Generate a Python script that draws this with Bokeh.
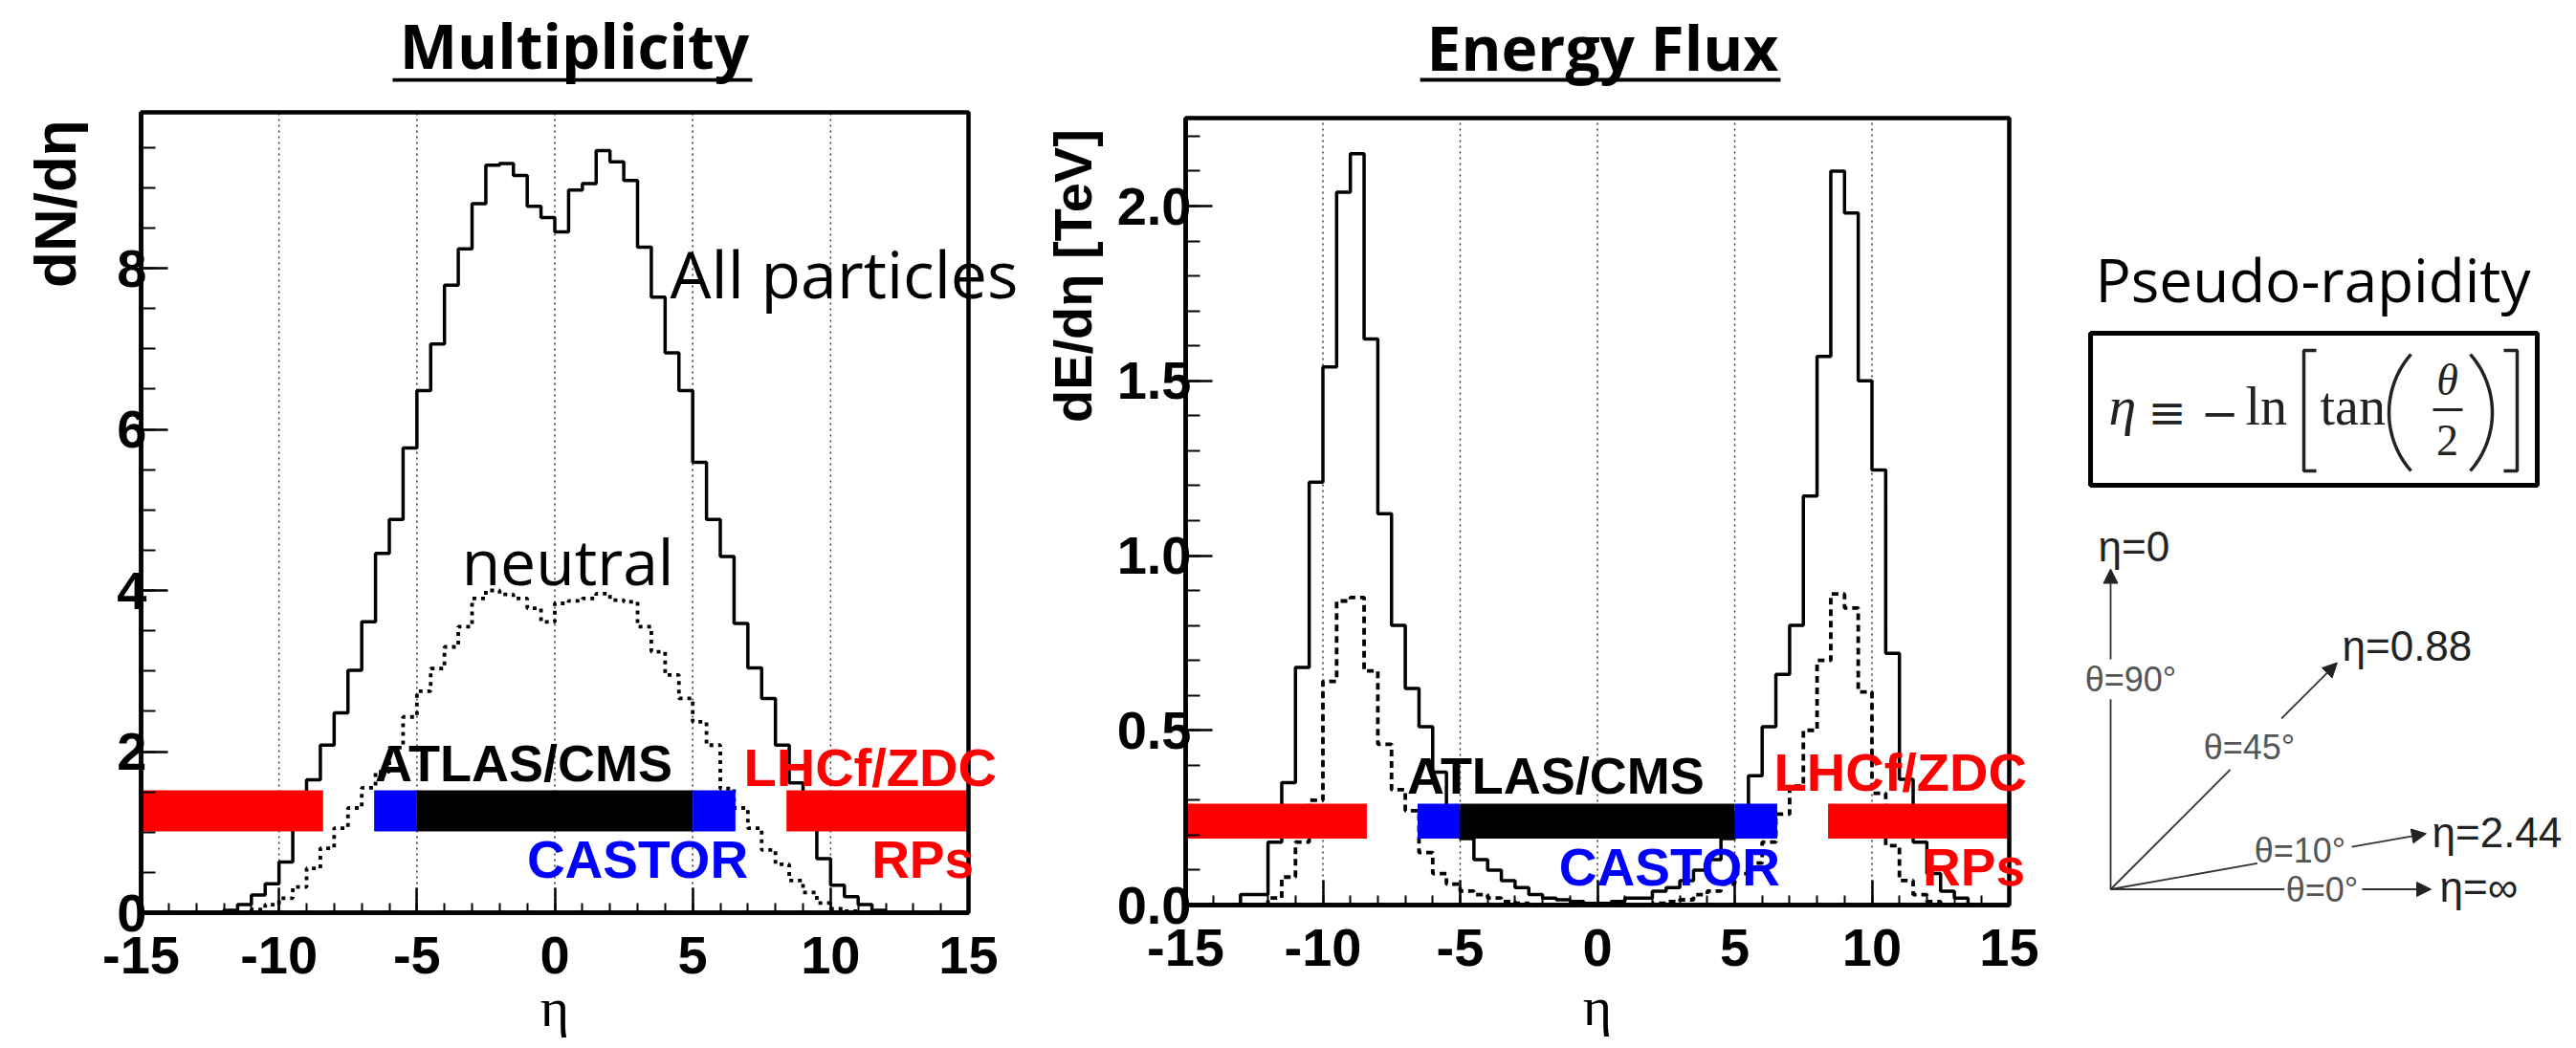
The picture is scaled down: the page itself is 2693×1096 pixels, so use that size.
import math
import numpy as np
from bokeh.plotting import figure
from bokeh.layouts import row
from bokeh.models import (Range1d, SingleIntervalTicker, PrintfTickFormatter,
                          Label, BoxAnnotation, Arrow, NormalHead)
from bokeh.core.properties import value
from bokeh.embed import file_html
from bokeh.resources import INLINE

# ---------------- data ----------------
ETA_MIN, ETA_MAX, BIN_W = -15.0, 15.0, 0.5
edges = list(np.arange(ETA_MIN, ETA_MAX + BIN_W / 2, BIN_W))  # 61 bin edges

# Multiplicity dN/deta, all particles (60 bins from -15 to 15)
mult_all = [0, 0, 0, 0, 0, 0, 0.03, 0.10, 0.22, 0.36,
            0.63, 1.07, 1.65, 2.08, 2.48, 3.01, 3.61, 4.46, 4.88, 5.77,
            6.48, 7.06, 7.79, 8.24, 8.80, 9.28, 9.30, 9.15, 8.77, 8.63,
            8.45, 8.97, 9.05, 9.46, 9.32, 9.09, 8.26, 7.64, 6.95, 6.48,
            5.59, 4.88, 4.42, 3.59, 3.04, 2.66, 2.08, 1.61, 1.09, 0.67,
            0.34, 0.20, 0.10, 0.03, 0, 0, 0, 0, 0, 0]
# Multiplicity, neutral particles
mult_neutral = [0, 0, 0, 0, 0, 0, 0, 0, 0.04, 0.10,
                0.18, 0.32, 0.55, 0.80, 1.05, 1.30, 1.55, 1.75, 2.05, 2.43,
                2.75, 3.03, 3.30, 3.55, 3.90, 4.00, 3.95, 3.90, 3.78, 3.61,
                3.84, 3.87, 3.90, 3.96, 3.88, 3.86, 3.55, 3.24, 2.95, 2.66,
                2.37, 2.08, 1.54, 1.30, 1.05, 0.78, 0.60, 0.40, 0.25, 0.12,
                0.05, 0.02, 0, 0, 0, 0, 0, 0, 0, 0]
# Energy flux dE/deta [TeV], all particles
eflux_all = [0, 0, 0, 0, 0.03, 0.03, 0.18, 0.35, 0.68, 1.21,
             1.54, 2.04, 2.15, 1.62, 1.12, 0.80, 0.62, 0.51, 0.38, 0.27,
             0.19, 0.13, 0.10, 0.07, 0.05, 0.03, 0.02, 0.015, 0.01, 0.005,
             0.005, 0.01, 0.02, 0.02, 0.04, 0.05, 0.07, 0.10, 0.13, 0.19,
             0.26, 0.37, 0.51, 0.66, 0.80, 1.17, 1.57, 2.10, 1.98, 1.50,
             1.245, 0.72, 0.36, 0.18, 0.09, 0.04, 0.02, 0, 0, 0]
# Energy flux, neutral particles
eflux_neutral = [0, 0, 0, 0, 0, 0, 0.02, 0.08, 0.18, 0.30,
                 0.64, 0.87, 0.88, 0.67, 0.46, 0.33, 0.27, 0.15, 0.09, 0.06,
                 0.04, 0.03, 0.02, 0.01, 0.005, 0, 0, 0, 0, 0,
                 0, 0, 0, 0, 0.005, 0.01, 0.015, 0.03, 0.04, 0.06,
                 0.09, 0.12, 0.18, 0.26, 0.34, 0.50, 0.70, 0.89, 0.85, 0.61,
                 0.32, 0.17, 0.07, 0.03, 0.01, 0, 0, 0, 0, 0]

# detector eta coverage
det_lo = [-15.0, -6.55, -5.0, 5.0, 8.4]
det_hi = [-8.4, -5.0, 5.0, 6.55, 15.0]
det_color = ["#ff0000", "#0000ff", "#000000", "#0000ff", "#ff0000"]

# pseudo-rapidity diagram
theta_deg = [90, 45, 10, 0]
theta_labels = ["θ=90°", "θ=45°", "θ=10°", "θ=0°"]
eta_labels = ["η=0", "η=0.88", "η=2.44", "η=∞"]

grid_x = [-10, -5, 0, 5, 10]


def make_panel(width, frame_l, frame_r, zero_px, px_per_unit, ymax, yint, yminor, yfmt):
    """Figure whose whole canvas is the plotting frame; the ROOT-style box
    [-15,15]x[0,ymax] sits inside at the given pixel geometry."""
    xppu = (frame_r - frame_l) / (ETA_MAX - ETA_MIN)
    xr = Range1d(ETA_MIN - frame_l / xppu, ETA_MAX + (width - frame_r) / xppu)
    yr = Range1d(-(1096 - zero_px) / px_per_unit, zero_px / px_per_unit)
    p = figure(width=width, height=1096, x_range=xr, y_range=yr,
               toolbar_location=None, output_backend="svg", title=None, min_border=0)
    p.background_fill_color = "white"
    p.border_fill_color = "white"
    p.outline_line_color = None
    p.grid.visible = False
    p.xaxis.fixed_location = 0
    p.yaxis.fixed_location = ETA_MIN
    p.xaxis.bounds = (ETA_MIN, ETA_MAX)
    p.yaxis.bounds = (0, ymax)
    p.xaxis.ticker = SingleIntervalTicker(interval=5, num_minor_ticks=5)
    p.yaxis.ticker = SingleIntervalTicker(interval=yint, num_minor_ticks=yminor)
    p.xaxis.formatter = PrintfTickFormatter(format="%d")
    p.yaxis.formatter = PrintfTickFormatter(format=yfmt)
    for ax in (p.xaxis[0], p.yaxis[0]):
        ax.axis_line_color = "black"
        ax.axis_line_width = 4.5
        ax.major_tick_line_width = 2.5
        ax.minor_tick_line_width = 2
        ax.major_tick_line_color = "black"
        ax.minor_tick_line_color = "black"
        ax.major_tick_out = 0
        ax.minor_tick_out = 0
        ax.major_label_text_font = "Liberation Sans"
        ax.major_label_text_font_style = "bold"
        ax.major_label_text_font_size = "56px"
        ax.major_label_text_color = "black"
    p.xaxis.major_tick_in = 26
    p.xaxis.minor_tick_in = 10
    p.yaxis.major_tick_in = 28
    p.yaxis.minor_tick_in = 15
    p.xaxis.major_label_standoff = 25
    p.yaxis.major_label_standoff = -6
    # dotted vertical grid inside the box
    p.segment(x0=grid_x, y0=[0] * len(grid_x), x1=grid_x, y1=[ymax] * len(grid_x),
              line_color="#333333", line_dash="2 4", line_width=1.5)
    return p


def add_common(p, all_vals, neu_vals, neu_dash, band_lo, band_hi, ymax):
    p.step(x=edges, y=list(neu_vals) + [neu_vals[-1]], mode="after",
           line_color="black", line_width=3.8, line_dash=neu_dash)
    p.step(x=edges, y=list(all_vals) + [all_vals[-1]], mode="after",
           line_color="black", line_width=3.5)
    p.quad(left=det_lo, right=det_hi, bottom=[band_lo] * len(det_lo),
           top=[band_hi] * len(det_lo), fill_color=det_color, line_color=None)
    # frame box
    p.quad(left=[ETA_MIN], right=[ETA_MAX], bottom=[0], top=[ymax],
           fill_color=None, line_color="black", line_width=4.5)


def txt(p, text, x, y, size, color="black", font="Liberation Sans", style="bold",
        align="left", angle=0.0):
    p.add_layout(Label(x=x, y=y, text=text, text_font=font, text_font_style=style,
                       text_font_size=size, text_color=color, text_align=align,
                       text_baseline="middle", angle=angle))


# ---------------- left panel: Multiplicity ----------------
Y1MAX = 837 / 84.25
p1 = make_panel(1085, 147, 1012, 954, 84.25, Y1MAX, 2, 4, "%d")
add_common(p1, mult_all, mult_neutral, "4 5", 1.01, 1.52, Y1MAX)

txt(p1, "Multiplicity", 0.71, 10.77, "64px", font="Open Sans", align="center")
p1.add_layout(BoxAnnotation(left=-5.88, right=7.16, top=10.36, bottom=10.315,
                            fill_color="black", fill_alpha=1.0, line_color=None))
txt(p1, "dN/dη", -18.12, 8.80, "62px", align="center", angle=math.pi / 2)
txt(p1, "η", 0.0, -1.17, "58px", font="Liberation Serif", style="normal", align="center")
txt(p1, "All particles", 4.18, 7.94, "68px", font="Open Sans", style="normal")
txt(p1, "neutral", 0.47, 4.37, "66px", font="Open Sans", style="normal", align="center")
txt(p1, "ATLAS/CMS", -1.13, 1.86, "54px", align="center")
txt(p1, "LHCf/ZDC", 6.85, 1.81, "56px", color="#ff0000")
txt(p1, "CASTOR", 3.0, 0.66, "55px", color="#0000ff", align="center")
txt(p1, "RPs", 13.34, 0.66, "55px", color="#ff0000", align="center")

# ---------------- middle panel: Energy Flux ----------------
Y2MAX = 823 / 365.5
p2 = make_panel(1085, 154, 1015, 946, 365.5, Y2MAX, 0.5, 5, "%.1f")
add_common(p2, eflux_all, eflux_neutral, "7 5", 0.19, 0.29, Y2MAX)

txt(p2, "Energy Flux", 0.19, 2.455, "64px", font="Open Sans", align="center")
p2.add_layout(BoxAnnotation(left=-6.46, right=6.67, top=2.3666, bottom=2.3557,
                            fill_color="black", fill_alpha=1.0, line_color=None))
txt(p2, "dE/dη [TeV]", -19.11, 1.80, "56px", align="center", angle=math.pi / 2)
txt(p2, "η", 0.0, -0.29, "58px", font="Liberation Serif", style="normal", align="center")
txt(p2, "ATLAS/CMS", -1.52, 0.371, "54px", align="center")
txt(p2, "LHCf/ZDC", 6.43, 0.379, "56px", color="#ff0000")
txt(p2, "CASTOR", 2.63, 0.108, "55px", color="#0000ff", align="center")
txt(p2, "RPs", 13.71, 0.108, "55px", color="#ff0000", align="center")

# ---------------- right: pseudo-rapidity diagram (pixel-like data space) ----------------
X0, X1 = 2170, 2693
p3 = figure(width=X1 - X0, height=1096, x_range=Range1d(X0, X1), y_range=Range1d(1096, 0),
            toolbar_location=None, output_backend="svg", title=None, min_border=0,
            x_axis_type=None, y_axis_type=None)
p3.outline_line_color = None
p3.background_fill_color = "white"
p3.border_fill_color = "white"

p3.text(x=[2190], y=[291], text=["Pseudo-rapidity"], text_font=value("Open Sans"),
        text_font_size="62px", text_color="black", text_baseline="middle")

# boxed formula
p3.quad(left=[2185], right=[2652], top=[348], bottom=[507], fill_color=None,
        line_color="black", line_width=5)
serif = value("Liberation Serif")
ink = "#222222"
p3.text(x=[2204], y=[424], text=["η"], text_font=serif, text_font_style="italic",
        text_font_size="58px", text_color=ink, text_baseline="middle")
p3.text(x=[2265, 2320], y=[430, 430], text=["≡", "−"], text_font=value("DejaVu Serif"),
        text_font_size="48px", text_color=ink, text_align="center",
        text_baseline="middle")
p3.text(x=[2347, 2425], y=[424, 424], text=["ln", "tan"], text_font=serif,
        text_font_size="56px", text_color=ink, text_baseline="middle")
p3.text(x=[2558], y=[397], text=["θ"], text_font=serif, text_font_style="italic",
        text_font_size="46px", text_color=ink, text_align="center",
        text_baseline="middle")
p3.text(x=[2558], y=[460], text=["2"], text_font=serif,
        text_font_size="46px", text_color=ink, text_align="center",
        text_baseline="middle")
p3.segment(x0=[2543], y0=[428], x1=[2574], y1=[428], line_color=ink, line_width=3)
# brackets and parentheses
p3.multi_line(xs=[[2421, 2408, 2408, 2421], [2617, 2631, 2631, 2617]],
              ys=[[366, 366, 492, 492], [366, 366, 492, 492]],
              line_color=ink, line_width=3.5)
R, half, cy = 92.4, 61.0, 431.0
phi = np.linspace(-math.asin(half / R), math.asin(half / R), 30)
lpx = list(2497 + R - R * np.cos(phi))
rpx = list(2605 - R + R * np.cos(phi))
pys = list(cy + R * np.sin(phi))
p3.multi_line(xs=[lpx, rpx], ys=[pys, pys], line_color=ink, line_width=3.5)

# arrows from the interaction point
OX, OY, L = 2206.0, 929.5, 335.0
gap_t0 = [0.593, 0.528, 0.465, 0.542]
gap_t1 = [0.718, 0.754, 0.764, 0.785]
theta_xy = [(2227, 710), (2351, 781), (2404, 889), (2427, 929.5)]
eta_xy = [(2193, 571), (2448, 675), (2542, 870), (2550, 927)]
for th, t0, t1, tl, el, txy, exy in zip(theta_deg, gap_t0, gap_t1, theta_labels,
                                        eta_labels, theta_xy, eta_xy):
    dx, dy = L * math.cos(math.radians(th)), -L * math.sin(math.radians(th))
    p3.segment(x0=[OX], y0=[OY], x1=[OX + t0 * dx], y1=[OY + t0 * dy],
               line_color="#333333", line_width=1.8)
    p3.add_layout(Arrow(end=NormalHead(size=15, fill_color=ink, line_color=ink),
                        x_start=OX + t1 * dx, y_start=OY + t1 * dy,
                        x_end=OX + dx, y_end=OY + dy,
                        line_color="#333333", line_width=1.8))
    p3.text(x=[txy[0]], y=[txy[1]], text=[tl], text_font=value("Liberation Sans"),
            text_font_size="36px", text_color="#555555", text_align="center",
            text_baseline="middle")
    p3.text(x=[exy[0]], y=[exy[1]], text=[el], text_font=value("Liberation Sans"),
            text_font_size="44px", text_color=ink, text_align="left",
            text_baseline="middle")

layout = row(p1, p2, p3)
open("out.html", "w").write(file_html(layout, INLINE))
